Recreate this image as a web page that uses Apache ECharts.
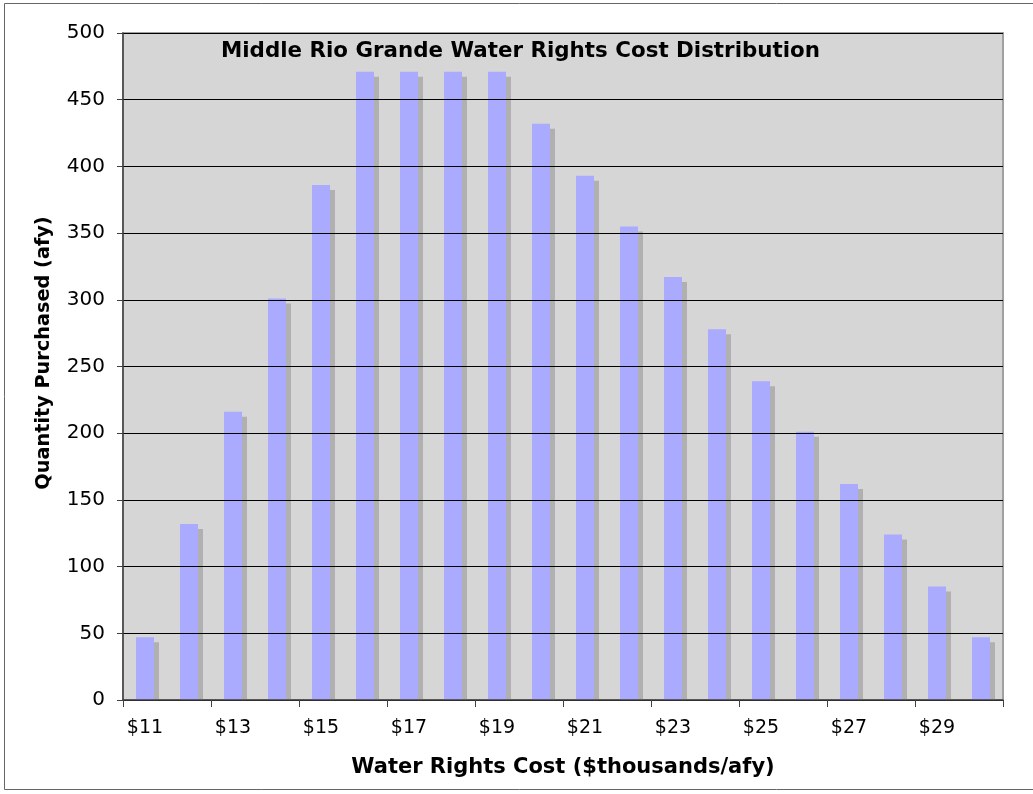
<!DOCTYPE html>
<html>
<head>
<meta charset="utf-8">
<script src="https://cdn.jsdelivr.net/npm/echarts@6/dist/echarts.min.js"></script>
<style>
  html, body { margin: 0; padding: 0; background: #fff; }
  #chart { width: 1033px; height: 794px; }
</style>
</head>
<body>
<div id="chart"></div>
<script>
const categories = ['$11', '$12', '$13', '$14', '$15', '$16', '$17', '$18', '$19', '$20',
  '$21', '$22', '$23', '$24', '$25', '$26', '$27', '$28', '$29', '$30']
const quantities = [47, 132, 216, 301, 386, 471, 471, 471, 471, 432,
  393, 355, 317, 278, 239, 201, 162, 124, 85, 47]
const yTicks = { min: 0, max: 500, interval: 50 }

const chart = echarts.init(document.getElementById('chart'))
const font = 'DejaVu Sans, Verdana, sans-serif'

chart.setOption({
  animation: false,
  backgroundColor: '#fff',
  title: {
    text: 'Middle Rio Grande Water Rights Cost Distribution',
    left: 216,
    top: 36,
    textStyle: { fontFamily: font, fontSize: 21.4, fontWeight: 'bold', color: '#000' }
  },
  grid: {
    left: 123, top: 33, right: 30, bottom: 94,
    show: true,
    backgroundColor: '#d6d6d6',
    borderColor: '#a0a0a0',
    borderWidth: 2
  },
  xAxis: {
    type: 'category',
    data: categories,
    z: 5,
    axisLine: { lineStyle: { color: '#404040', width: 1.5 } },
    axisTick: { show: true, length: 7, lineStyle: { color: '#404040' } },
    axisLabel: { interval: 1, margin: 19, fontFamily: font, fontSize: 19, color: '#000' },
    name: 'Water Rights Cost ($thousands/afy)',
    nameLocation: 'middle',
    nameGap: 57,
    nameTextStyle: { fontFamily: font, fontSize: 21, fontWeight: 'bold', color: '#000' }
  },
  yAxis: {
    type: 'value',
    min: yTicks.min,
    max: yTicks.max,
    interval: yTicks.interval,
    z: 5,
    axisLine: { show: true, lineStyle: { color: '#404040', width: 1.5 } },
    axisTick: { show: true, length: 6, lineStyle: { color: '#404040' } },
    axisLabel: { margin: 18, fontFamily: font, fontSize: 20, color: '#000' },
    splitLine: { lineStyle: { color: '#000', width: 1 } }
  },
  graphic: [
    {
      // hides the bar shadows below the category axis
      type: 'rect',
      shape: { x: 124, y: 701, width: 878, height: 6 },
      style: { fill: '#fff' },
      z: 3
    },
    {
      type: 'rect',
      shape: { x: 4.5, y: 3.5, width: 1040, height: 786 },
      style: { fill: 'none', stroke: '#666', lineWidth: 1 },
      silent: true,
      z: 10
    },
    {
      type: 'text',
      x: 44,
      y: 353,
      rotation: Math.PI / 2,
      style: {
        text: 'Quantity Purchased (afy)',
        fontFamily: font,
        fontSize: 19.3,
        fontWeight: 'bold',
        fill: '#000',
        align: 'center',
        verticalAlign: 'middle'
      },
      z: 10
    }
  ],
  series: [
    {
      type: 'bar',
      data: quantities,
      barWidth: 18,
      itemStyle: {
        color: '#aaaaff',
        shadowColor: '#b0b0b0',
        shadowBlur: 0,
        shadowOffsetX: 5,
        shadowOffsetY: 5
      }
    }
  ]
})
</script>
</body>
</html>
